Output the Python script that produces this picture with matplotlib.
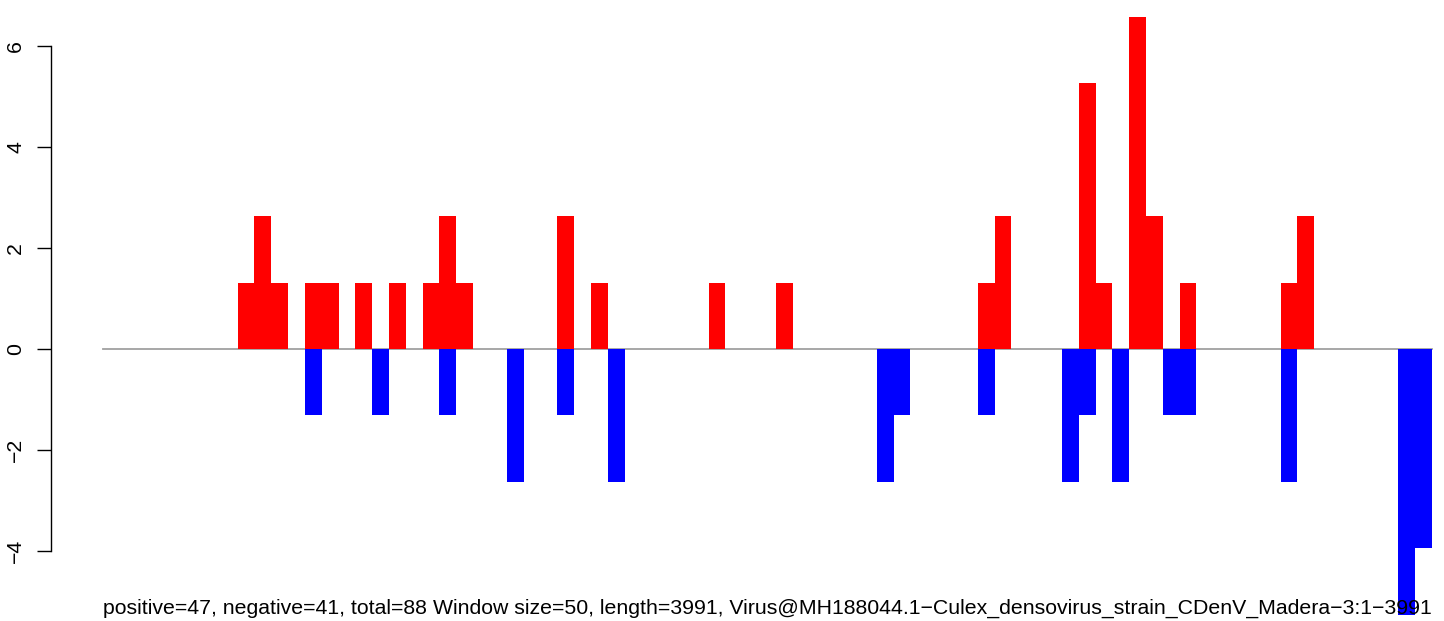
import matplotlib
matplotlib.use("Agg")
import matplotlib.pyplot as plt

# windows of 50 nt along the genome, bar values
n_windows = 79
pos_windows = [8, 9, 10, 12, 13, 15, 17, 19, 20, 21, 27, 29, 36, 40,
               52, 53, 58, 59, 61, 62, 64, 70, 71]
pos_values = [1.316, 2.632, 1.316, 1.316, 1.316, 1.316, 1.316, 1.316, 2.632, 1.316,
              2.632, 1.316, 1.316, 1.316, 1.316, 2.632, 5.263, 1.316, 6.579, 2.632,
              1.316, 1.316, 2.632]
neg_windows = [12, 16, 20, 24, 27, 30, 46, 47, 52, 57, 58, 60, 63, 64, 70, 77, 78]
neg_values = [-1.316, -1.316, -1.316, -2.632, -1.316, -2.632, -2.632, -1.316, -1.316,
              -2.632, -1.316, -2.632, -1.316, -1.316, -2.632, -5.263, -3.947]
y_ticks = [-4, -2, 0, 2, 4, 6]

left_text = "positive=47, negative=41, total=88"
right_text = ("Window size=50, length=3991, "
              "Virus@MH188044.1\u2212Culex_densovirus_strain_CDenV_Madera\u22123:1\u22123991")

plt.rcParams['font.family'] = ['Liberation Sans', 'DejaVu Sans']

W, H = 1444, 621
fig = plt.figure(figsize=(W / 100, H / 100), dpi=100)
ax_left = 50.7
ax = fig.add_axes([ax_left / W, 0, 1 - ax_left / W, 1])

px = 16.82   # pixels per window
py = 50.5    # pixels per unit
x0 = 103.0
y0 = 349.0
ax.set_xlim(-(x0 - ax_left) / px, n_windows + (W - 1432) / px)
ax.set_ylim(-(H - y0) / py, y0 / py)

ax.plot([0, n_windows], [0, 0], color='#a0a0a0', lw=1.3, zorder=1)
ax.bar(pos_windows, pos_values, width=1, align='edge', color='#ff0000', linewidth=0, zorder=2)
ax.bar(neg_windows, neg_values, width=1, align='edge', color='#0000ff', linewidth=0, zorder=2)

for s in ['top', 'right', 'bottom']:
    ax.spines[s].set_visible(False)
ax.spines['left'].set_bounds(-4, 6)
ax.spines['left'].set_linewidth(1.0)
ax.set_xticks([])
ax.set_yticks(y_ticks)
ax.set_yticklabels([str(v).replace('-', '\u2212') for v in y_ticks])
ax.tick_params(axis='y', length=9.9, width=1.0, pad=8.5, labelsize=15.3, labelrotation=90)
for lab in ax.get_yticklabels():
    lab.set_va('center')

ax.text(0, -(614 - y0) / py, left_text, ha='left', va='baseline', fontsize=15.3)
ax.text(n_windows, -(614 - y0) / py, right_text, ha='right', va='baseline', fontsize=15.3)

fig.savefig("out.png", dpi=100)
